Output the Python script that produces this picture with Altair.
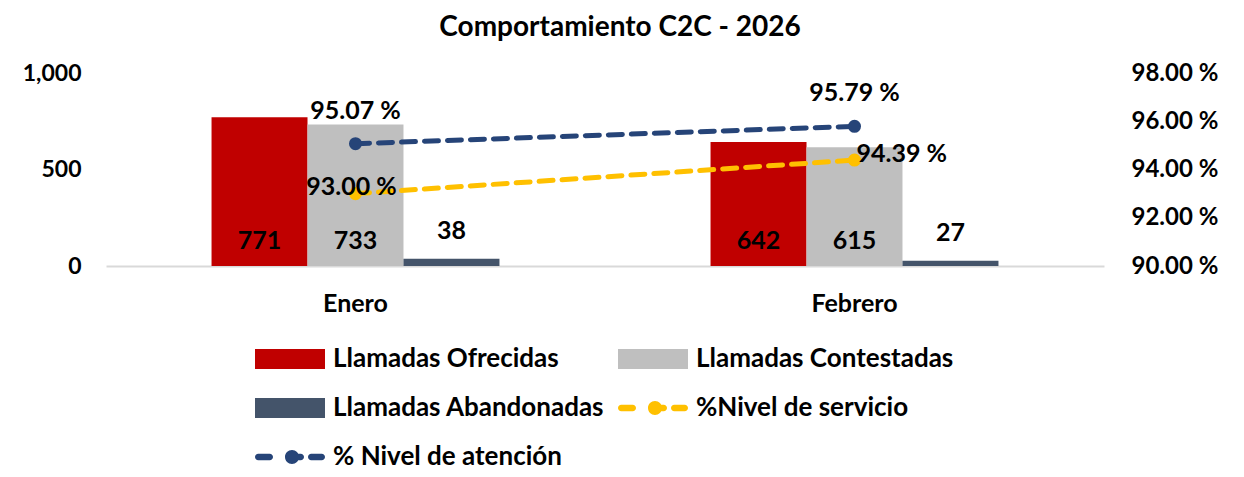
import altair as alt
import pandas as pd

meses = ["Enero", "Febrero"]
ofrecidas = [771, 642]
contestadas = [733, 615]
abandonadas = [38, 27]
nivel_servicio = [93.00, 94.39]
nivel_atencion = [95.07, 95.79]

serie_bar = ["Llamadas Ofrecidas", "Llamadas Contestadas", "Llamadas Abandonadas"]
serie_line = ["%Nivel de servicio", "% Nivel de atención"]
serie_all = serie_bar + serie_line
colores = ["#C00000", "#BFBFBF", "#44546A", "#FFC000", "#264478"]
color_of = dict(zip(serie_all, colores))

FONT = "Lato"

rows = []
for i, m in enumerate(meses):
    for s, vals in zip(serie_bar, [ofrecidas, contestadas, abandonadas]):
        rows.append({"mes": m, "serie": s, "valor": vals[i]})
bars_df = pd.DataFrame(rows)

lrows = []
for i, m in enumerate(meses):
    for s, vals in zip(serie_line, [nivel_servicio, nivel_atencion]):
        lrows.append({"mes": m, "serie": s, "valor": vals[i],
                      "etiqueta": f"{vals[i]:.2f} %"})
lines_df = pd.DataFrame(lrows)

legend_df = pd.DataFrame({"serie": serie_all})

# legend symbol shapes (style only)
rect_path = "M-1,-1H6V1H-1Z"


def pill(a, b, t=0.33):
    return (f"M{a + t},{-t}H{b - t}A{t},{t} 0 0,1 {b - t},{t}"
            f"H{a + t}A{t},{t} 0 0,1 {a + t},{-t}Z")


line_path = " ".join([
    pill(-1, 0.8), pill(2.7, 3.9), pill(4.3, 6.0),
    "M2.0,0A0.7,0.7 0 1,1 3.4,0A0.7,0.7 0 1,1 2.0,0Z",
])
shapes = [rect_path] * 3 + [line_path] * 2

color_scale = alt.Scale(domain=serie_all, range=colores)
legend = alt.Legend(
    title=None, orient="none", legendX=146, legendY=273, columns=2, direction="horizontal",
    symbolSize=400, labelOffset=55, columnPadding=10, rowPadding=23,
    labelFont=FONT, labelFontSize=26, labelFontWeight="bold", labelColor="black",
    labelLimit=0, padding=0, gridAlign="each", symbolStrokeWidth=0, symbolOpacity=1,
)
color_enc = alt.Color("serie:N", scale=color_scale, legend=legend)

x_enc = alt.X("mes:N", sort=meses,
              scale=alt.Scale(paddingInner=0.423, paddingOuter=0.2115),
              axis=alt.Axis(title=None, labelAngle=0, ticks=False, domainColor="#D9D9D9",
                            domainWidth=2, labelPadding=25, labelFontSize=25))
xoff = alt.XOffset("serie:N", sort=serie_bar,
                   scale=alt.Scale(domain=serie_bar, paddingInner=0, paddingOuter=0))

left_axis = alt.Axis(title=None, values=[0, 500, 1000], format=",d", grid=False,
                     domain=False, ticks=False, labelPadding=25)
left_scale = alt.Scale(domain=[0, 1000])

base_bar = alt.Chart(bars_df)
bars = base_bar.mark_bar().encode(
    x=x_enc, xOffset=xoff,
    y=alt.Y("valor:Q", scale=left_scale, axis=left_axis),
    color=color_enc,
)
txt_kw = dict(font=FONT, fontSize=25, fontWeight="bold", color="black", baseline="middle")
txt_in = base_bar.transform_filter(
    alt.FieldOneOfPredicate(field="serie", oneOf=serie_bar[:2])
).transform_calculate(base="0").mark_text(dy=-25, **txt_kw).encode(
    x=x_enc, xOffset=xoff,
    y=alt.Y("base:Q", scale=left_scale, axis=left_axis),
    text=alt.Text("valor:Q"),
)
txt_out = base_bar.transform_filter(
    alt.datum.serie == serie_bar[2]
).mark_text(dy=-28, **txt_kw).encode(
    x=x_enc, xOffset=xoff,
    y=alt.Y("valor:Q", scale=left_scale, axis=left_axis),
    text=alt.Text("valor:Q"),
)
legend_layer = alt.Chart(legend_df).transform_filter("false").mark_point(
    filled=True, opacity=1
).encode(
    color=color_enc,
    shape=alt.Shape("serie:N", scale=alt.Scale(domain=serie_all, range=shapes), legend=legend),
)
left = alt.layer(bars, txt_in, txt_out, legend_layer)

right_axis = alt.Axis(title=None, orient="right", values=[90, 92, 94, 96, 98],
                      labelExpr="format(datum.value, '.2f') + ' %'", grid=False,
                      domain=False, ticks=False, labelPadding=27, labelFontSize=24)
y_right = alt.Y("valor:Q", scale=alt.Scale(domain=[90, 98]), axis=right_axis)

base_line = alt.Chart(lines_df)
right_layers = []
for s in serie_line:
    d = base_line.transform_filter(alt.datum.serie == s)
    right_layers.append(d.mark_line(strokeWidth=5, strokeDash=[14, 9], strokeCap="round",
                                    color=color_of[s]).encode(x=x_enc, y=y_right))
    right_layers.append(d.mark_circle(size=170, opacity=1, color=color_of[s]).encode(
        x=x_enc, y=y_right))

lab_at = base_line.transform_filter(alt.datum.serie == serie_line[1]).mark_text(
    dy=-33, **txt_kw).encode(x=x_enc, y=y_right, text="etiqueta:N")
lab_s1 = base_line.transform_filter(
    (alt.datum.serie == serie_line[0]) & (alt.datum.mes == meses[0])
).mark_text(dy=-7, dx=-4, **txt_kw).encode(x=x_enc, y=y_right, text="etiqueta:N")
lab_s2 = base_line.transform_filter(
    (alt.datum.serie == serie_line[0]) & (alt.datum.mes == meses[1])
).mark_text(dy=-6, dx=2, align="left", **txt_kw).encode(x=x_enc, y=y_right, text="etiqueta:N")
right = alt.layer(*right_layers, lab_at, lab_s1, lab_s2)

chart = alt.layer(left, right).resolve_scale(y="independent").properties(
    width=998, height=193,
    padding={"left": 14, "top": 6, "right": 6, "bottom": 0},
    title=alt.Title("Comportamiento C2C - 2026", font=FONT, fontSize=28, fontWeight="bold",
                    color="black", anchor="middle", frame="bounds", offset=19),
).configure_view(stroke=None).configure_axis(
    labelFont=FONT, labelFontWeight="bold", labelFontSize=23, labelColor="black"
)

chart.save("out.html", embed_options={"renderer": "svg", "actions": False})
